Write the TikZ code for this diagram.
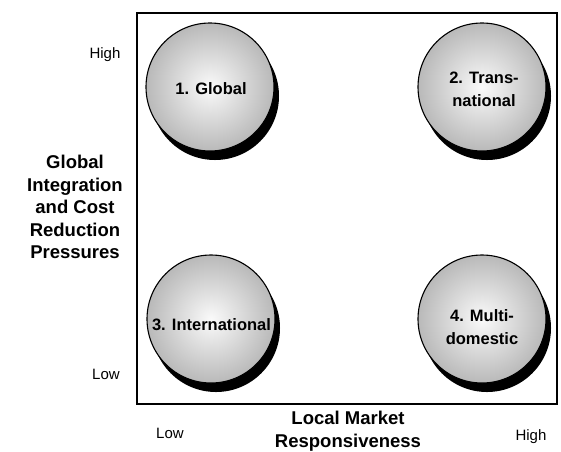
\documentclass[tikz,border=0pt]{standalone}
\usepackage{fontspec}
\setmainfont{Liberation Sans}
\begin{document}
\begin{tikzpicture}[x=1pt,y=-1pt,
  ball/.style={circle,draw=black,line width=1.1pt,minimum size=128pt,inner sep=0pt,
    inner color=gray!4,outer color=gray!55},
  shadowball/.style={circle,fill=black,minimum size=128pt,inner sep=0pt},
  balltext/.style={font=\fontsize{16.5}{23}\selectfont\bfseries,align=center,inner sep=0pt},
  axistext/.style={font=\fontsize{18.5}{22.5}\selectfont\bfseries,align=center,inner sep=0pt},
  ticktext/.style={font=\fontsize{15}{18}\selectfont,inner sep=0pt}]
\useasboundingbox (0,0) rectangle (561,451);
% frame
\draw[line width=2.6pt] (137,13) rectangle (557,404);
% shadows
\node[shadowball] (s1) at (215,96) {};
\node[shadowball] (s2) at (487,96) {};
\node[shadowball] (s3) at (216,328) {};
\node[shadowball] (s4) at (487,328) {};
% balls
\node[ball] (b1) at (210,87) {};
\node[ball] (b2) at (482,87) {};
\node[ball] (b3) at (211,319) {};
\node[ball] (b4) at (482,319) {};
\node[balltext] (t1) at (211,89) {1. Global};
\node[balltext] (t2) at (484,89) {2. Trans-\\national};
\node[balltext] (t3) at (211.5,325) {3. International};
\node[balltext] (t4) at (482,327) {4. Multi-\\domestic};
% axis labels
\node[axistext] (ylab) at (75,207) {Global\\Integration\\and Cost\\Reduction\\Pressures};
\node[axistext] (xlab) at (348,431) {Local Market\\Responsiveness};
\node[ticktext] (yhigh) at (105,55) {High};
\node[ticktext] (ylow) at (106,374) {Low};
\node[ticktext] (xlow) at (170,433) {Low};
\node[ticktext] (xhigh) at (531,437) {High};
\end{tikzpicture}
\end{document}
